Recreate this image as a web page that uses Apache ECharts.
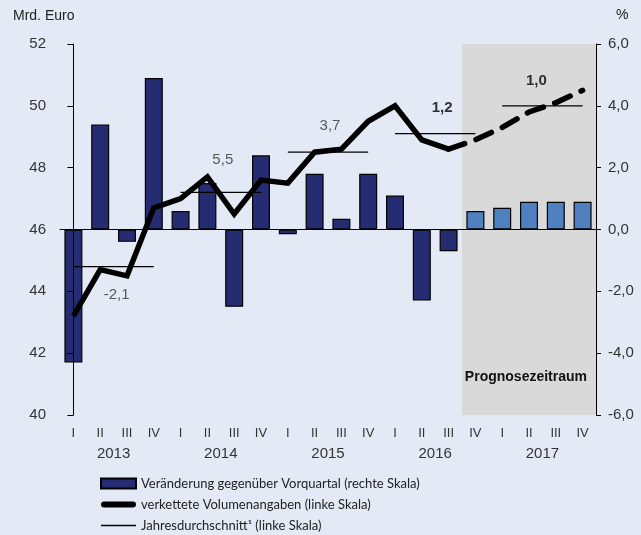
<!DOCTYPE html>
<html>
<head>
<meta charset="utf-8">
<script src="https://cdn.jsdelivr.net/npm/echarts@6/dist/echarts.min.js"></script>
<style>
  html, body { margin: 0; padding: 0; background: #e3eaf5; }
  #main { width: 641px; height: 535px; }
</style>
</head>
<body>
<div id="main"></div>
<script>
  // Daten
  var years = ['2013', '2014', '2015', '2016', '2017'];
  var quarterNames = ['I', 'II', 'III', 'IV'];
  var categories = [];
  years.forEach(function (y) {
    quarterNames.forEach(function (q) { categories.push(y + ' ' + q); });
  });
  // Veränderung gegenüber Vorquartal in % (rechte Skala)
  var changeValues = [-4.3, 3.4, -0.4, 4.9, 0.6, 1.5, -2.5, 2.4, -0.15, 1.8,
                      0.35, 1.8, 1.1, -2.3, -0.7, 0.6, 0.7, 0.9, 0.9, 0.9];
  // verkettete Volumenangaben in Mrd. Euro (linke Skala)
  var volumeValues = [43.2, 44.7, 44.5, 46.7, 47.0, 47.7, 46.5, 47.6, 47.5, 48.5,
                      48.6, 49.5, 50.0, 48.9, 48.6, 48.9, 49.3, 49.8, 50.1, 50.5];
  // Jahresdurchschnitt (linke Skala) und Wachstumsrate
  var annualAvg = [44.8, 47.2, 48.5, 49.1, 50.0];
  var annualGrowth = ['-2,1', '5,5', '3,7', '1,2', '1,0'];
  var leftTicks = [40, 42, 44, 46, 48, 50, 52];
  var rightTicks = [-6, -4, -2, 0, 2, 4, 6];
  var forecastStart = 15; // 2016 IV

  var LEG_BAR = 'Veränderung gegenüber Vorquartal (rechte Skala)';
  var LEG_LINE = 'verkettete Volumenangaben (linke Skala)';
  var LEG_AVG = 'Jahresdurchschnitt¹ (linke Skala)';
  var font = 'Liberation Sans, Arial, sans-serif';

  var chart = echarts.init(document.getElementById('main'));

  var series = [];

  // Prognosezeitraum (grauer Hintergrund)
  series.push({
    type: 'line', xAxisIndex: 1, yAxisIndex: 0, data: [], z: 1,
    markArea: {
      silent: true,
      itemStyle: { color: '#d9d9d9' },
      label: {
        show: true, position: 'insideBottomRight', offset: [-4, -26],
        color: '#111', fontWeight: 'bold', fontSize: 14, fontFamily: font
      },
      data: [[{ name: 'Prognosezeitraum', xAxis: forecastStart - 0.5 }, { xAxis: categories.length - 0.5 }]]
    }
  });

  series.push({
    name: LEG_BAR, type: 'bar', xAxisIndex: 0, yAxisIndex: 1, barWidth: 18, z: 2,
    itemStyle: { color: '#262c72', borderColor: '#000', borderWidth: 1.2 },
    data: changeValues.map(function (v, i) {
      return i >= forecastStart
        ? { value: v, itemStyle: { color: '#4f81c0' } }
        : v;
    })
  });

  series.push({
    name: LEG_LINE, type: 'line', xAxisIndex: 0, yAxisIndex: 0, symbol: 'none', z: 4,
    lineStyle: { color: '#000', width: 5.5, join: 'miter' },
    itemStyle: { color: '#000' },
    data: volumeValues.map(function (v, i) { return i < forecastStart ? v : null; })
  });
  series.push({
    name: LEG_LINE, type: 'line', xAxisIndex: 0, yAxisIndex: 0, symbol: 'none', z: 4,
    lineStyle: { color: '#000', width: 5.5, type: [17, 12], cap: 'round' },
    itemStyle: { color: '#000' },
    data: volumeValues.map(function (v, i) { return i >= forecastStart - 1 ? v : null; })
  });

  var labelOffsets = [[3, 28], [2, -33], [2, -26], [7, -26], [-6, -25]];
  annualAvg.forEach(function (v, k) {
    series.push({
      name: LEG_AVG, type: 'line', xAxisIndex: 1, yAxisIndex: 0, symbol: 'none', z: 3,
      lineStyle: { color: '#000', width: 1.3 },
      itemStyle: { color: '#000' },
      data: [[4 * k, v], [4 * k + 3, v]]
    });
    series.push({
      type: 'scatter', xAxisIndex: 1, yAxisIndex: 0, symbolSize: 0, z: 3, silent: true,
      label: {
        show: true, position: 'inside', offset: labelOffsets[k],
        formatter: annualGrowth[k], fontSize: 15, fontFamily: font,
        color: k >= 3 ? '#000' : '#333', fontWeight: k >= 3 ? 'bold' : 'normal'
      },
      data: [[4 * k + 1.5, v]]
    });
  });

  var option = {
    backgroundColor: '#e3eaf5',
    animation: false,
    textStyle: { fontFamily: font },
    grid: { left: 60, right: 45, top: 44, bottom: 120 },
    graphic: [
      { type: 'text', left: 13, top: 9, style: { text: 'Mrd. Euro', font: '14px ' + font, fill: '#222' } },
      { type: 'text', left: 616, top: 8, style: { text: '%', font: '14px ' + font, fill: '#222' } }
    ],
    legend: {
      orient: 'vertical', left: 100, top: 477, padding: 0,
      itemWidth: 35, itemHeight: 10, itemGap: 8,
      textStyle: { fontSize: 13, color: '#222', fontFamily: 'Lato, sans-serif' },
      data: [
        { name: LEG_BAR, icon: 'rect' },
        { name: LEG_LINE, icon: 'path://M3,0L32,0A3,3,0,0,1,32,6L3,6A3,3,0,0,1,3,0Z' },
        { name: LEG_AVG, icon: 'path://M0,0L35,0L35,1.6L0,1.6Z' }
      ]
    },
    xAxis: [
      {
        type: 'category', data: categories, position: 'bottom', z: 5,
        axisLine: { lineStyle: { color: '#000', width: 1 } },
        axisTick: { interval: 3, length: 5, lineStyle: { color: '#000' } },
        axisLabel: {
          interval: 0, margin: 12, fontSize: 13, color: '#333',
          formatter: function (c) { return c.split(' ')[1]; }
        }
      },
      { type: 'value', min: -0.5, max: categories.length - 0.5, show: false },
      {
        type: 'category', data: years, position: 'bottom', offset: 19,
        axisLine: { show: false }, axisTick: { show: false },
        axisLabel: { margin: 12, fontSize: 15, color: '#333' }
      }
    ],
    yAxis: [
      {
        type: 'value', position: 'left', min: leftTicks[0], max: leftTicks[leftTicks.length - 1], interval: 2, z: 5,
        splitLine: { show: false },
        axisLine: { show: true, lineStyle: { color: '#000' } },
        axisTick: { show: true, length: 6, lineStyle: { color: '#000' } },
        axisLabel: { margin: 14, fontSize: 15, color: '#333' }
      },
      {
        type: 'value', position: 'right', min: rightTicks[0], max: rightTicks[rightTicks.length - 1], interval: 2, z: 5,
        splitLine: { show: false },
        axisLine: { show: true, lineStyle: { color: '#000' } },
        axisTick: { show: true, length: 5, lineStyle: { color: '#000' } },
        axisLabel: {
          margin: 12, fontSize: 15, color: '#333',
          formatter: function (v) { return v.toFixed(1).replace('.', ','); }
        }
      }
    ],
    series: series
  };

  chart.setOption(option);
</script>
</body>
</html>
